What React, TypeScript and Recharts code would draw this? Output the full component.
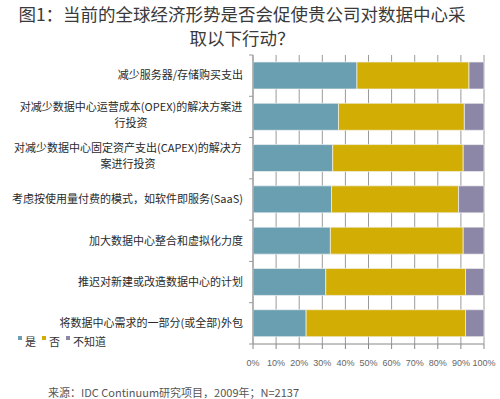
import React from "react";
import { BarChart, Bar, XAxis, YAxis, CartesianGrid, Legend } from "recharts";

const categories = [
  "减少服务器/存储购买支出",
  "对减少数据中心运营成本(OPEX)的解决方案进行投资",
  "对减少数据中心固定资产支出(CAPEX)的解决方案进行投资",
  "考虑按使用量付费的模式，如软件即服务(SaaS)",
  "加大数据中心整合和虚拟化力度",
  "推迟对新建或改造数据中心的计划",
  "将数据中心需求的一部分(或全部)外包",
];
const labelLines = [
  ["减少服务器/存储购买支出"],
  ["对减少数据中心运营成本(OPEX)的解决方案进", "行投资"],
  ["对减少数据中心固定资产支出(CAPEX)的解决方", "案进行投资"],
  ["考虑按使用量付费的模式，如软件即服务(SaaS)"],
  ["加大数据中心整合和虚拟化力度"],
  ["推迟对新建或改造数据中心的计划"],
  ["将数据中心需求的一部分(或全部)外包"],
];
const yesValues = [45, 37, 34.5, 34, 33.5, 31.5, 23];
const noValues = [48.5, 54.5, 56.5, 55, 57.5, 60.5, 69];
const unknownValues = [6.5, 8.5, 9, 11, 9, 8, 8];
const seriesNames = ["是", "否", "不知道"];
const xTicks = [0, 10, 20, 30, 40, 50, 60, 70, 80, 90, 100];

const colors = ["#6A9EB1", "#D2AE05", "#8C87A6"];

const data = categories.map((c, i) => ({
  name: c,
  idx: i,
  yes: yesValues[i],
  no: noValues[i],
  unknown: unknownValues[i],
}));

const CJK_FONT = '"Noto Sans CJK SC", "Noto Sans", sans-serif';

const estWidth = (s: string, fs: number) => {
  let w = 0;
  for (const ch of s) {
    const c = ch.charCodeAt(0);
    w += c > 0x2e80 ? fs : fs * 0.56;
  }
  return w;
};

const YTick = (props: any) => {
  const { x, y, payload, index } = props;
  const lines = labelLines[index] || [String(payload.value)];
  const fs = 11;
  const right = x - 10;
  const half = payload.offset || 20;
  const spacing = 16;
  const maxW = Math.max(...lines.map((l) => estWidth(l, fs)));
  const cx = right - maxW / 2;
  const startDy = lines.length > 1 ? -((lines.length - 1) * spacing) / 2 - 2 : 0;
  return (
    <g>
      <line x1={x - 4} x2={x} y1={y - half} y2={y - half} stroke="#999" />
      {index === categories.length - 1 && (
        <line x1={x - 4} x2={x} y1={y + half} y2={y + half} stroke="#999" />
      )}
      {lines.map((l, i) => (
        <text
          key={i}
          x={lines.length > 1 ? cx : right}
          y={y + startDy + i * spacing}
          dy="0.35em"
          textAnchor={lines.length > 1 ? "middle" : "end"}
          fontSize={fs}
          fontFamily={CJK_FONT}
          fill="#2a2a2a"
        >
          {l}
        </text>
      ))}
    </g>
  );
};

const LegendContent = () => (
  <div
    style={{
      display: "flex",
      alignItems: "center",
      fontFamily: CJK_FONT,
      fontSize: 11,
      color: "#333",
      whiteSpace: "nowrap",
    }}
  >
    {seriesNames.map((n, i) => (
      <span key={n} style={{ display: "flex", alignItems: "center", marginRight: 6 }}>
        <span
          style={{
            display: "inline-block",
            width: 4,
            height: 4,
            background: colors[i],
            marginRight: 3,
            position: "relative",
            top: -3,
          }}
        />
        {n}
      </span>
    ))}
  </div>
);

export default function App() {
  return (
    <div
      style={{
        position: "absolute",
        left: 0,
        top: 0,
        width: 500,
        height: 399,
        background: "#fff",
        overflow: "hidden",
      }}
    >
      <div
        style={{
          position: "absolute",
          left: 0,
          top: 2,
          width: 484,
          textAlign: "center",
          fontFamily: CJK_FONT,
          fontSize: 17.5,
          lineHeight: "24px",
          color: "#3a3a3a",
        }}
      >
        图1：当前的全球经济形势是否会促使贵公司对数据中心采
        <br />
        取以下行动？
      </div>
      <BarChart
        width={500}
        height={399}
        data={data}
        layout="vertical"
        margin={{ top: 55, right: 16, bottom: 25, left: 0 }}
        barSize={27}
      >
        <CartesianGrid horizontal={false} vertical stroke="#9a9a9a" />
        <XAxis
          type="number"
          domain={[0, 100]}
          ticks={xTicks}
          interval={0}
          tickFormatter={(v: number) => `${v}%`}
          height={30}
          tickSize={5}
          tickMargin={11}
          axisLine={{ stroke: "#888" }}
          tickLine={{ stroke: "#888" }}
          tick={{ fontSize: 9, fill: "#666", fontFamily: '"Liberation Sans", Arial, sans-serif' }}
        />
        <YAxis
          type="category"
          dataKey="name"
          width={253}
          tickSize={0}
          tickMargin={0}
          tickLine={false}
          axisLine={{ stroke: "#999" }}
          interval={0}
          tick={<YTick />}
        />
        <Legend
          verticalAlign="middle"
          align="center"
          layout="horizontal"
          content={<LegendContent />}
          wrapperStyle={{ left: 18, top: 333, width: "auto", height: "auto" }}
        />
        <Bar dataKey="yes" name={seriesNames[0]} stackId="a" fill={colors[0]} stroke="#f2f2f2" strokeWidth={0.7} isAnimationActive={false} />
        <Bar dataKey="no" name={seriesNames[1]} stackId="a" fill={colors[1]} stroke="#f2f2f2" strokeWidth={0.7} isAnimationActive={false} />
        <Bar dataKey="unknown" name={seriesNames[2]} stackId="a" fill={colors[2]} stroke="#f2f2f2" strokeWidth={0.7} isAnimationActive={false} />
      </BarChart>
      <div
        style={{
          position: "absolute",
          left: 48,
          top: 384,
          fontFamily: CJK_FONT,
          fontSize: 11,
          lineHeight: "16px",
          color: "#555",
          whiteSpace: "nowrap",
        }}
      >
        来源：IDC Continuum研究项目，2009年；N=2137
      </div>
    </div>
  );
}
